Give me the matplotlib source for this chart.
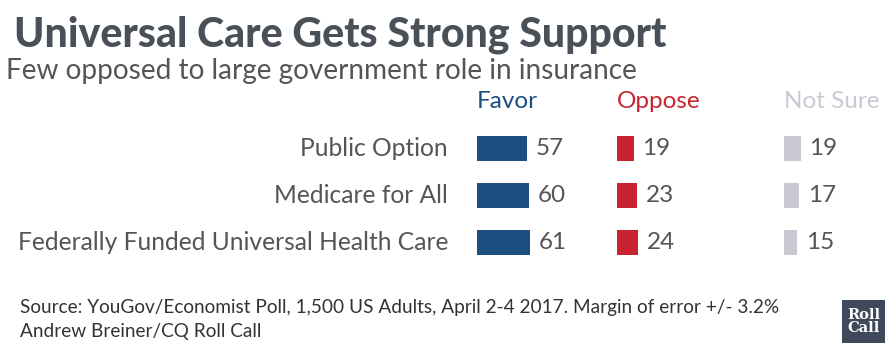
import matplotlib.pyplot as plt
from matplotlib.patches import Rectangle

# data
questions = ["Public Option", "Medicare for All", "Federally Funded Universal Health Care"]
favor = [57, 60, 61]
oppose = [19, 23, 24]
not_sure = [19, 17, 15]
groups = ["Favor", "Oppose", "Not Sure"]

plt.rcParams['font.family'] = ['Lato', 'DejaVu Sans']

W, H = 896, 352
fig = plt.figure(figsize=(W / 100, H / 100), dpi=100)
fig.patch.set_facecolor('white')

def fx(px):
    return px / W

def fy(px):
    return 1 - px / H

text_col = '#555558'
colors = ['#1c4f80', '#c9232f', '#c9c9d3']
starts = [477, 617, 784]
scale = 0.87  # px per percent point

fig.text(fx(14), fy(35), "Universal Care Gets Strong Support", fontsize=29.5, fontweight='black',
         color='#4a5058', va='center', ha='left')
fig.text(fx(6), fy(71), "Few opposed to large government role in insurance", fontsize=20.2,
         color=text_col, va='center', ha='left')

# rows occupy 124.5 .. 266.5 px from top
top, bottom = 124.5, 266.5
series = [favor, oppose, not_sure]
for g, vals, col, x0 in zip(groups, series, colors, starts):
    ax = fig.add_axes([fx(x0), fy(bottom), fx(140), (bottom - top) / H])
    ax.set_xlim(0, 140 / scale)
    ax.set_ylim(len(questions) - 0.5, -0.5)
    ax.barh(range(len(vals)), vals, height=0.53, color=col)
    for i, v in enumerate(vals):
        ax.text(v + 9 / scale, i, str(v), fontsize=17.5, color=text_col, va='center', ha='left')
    ax.axis('off')
    fig.text(fx(x0), fy(102), g, fontsize=17.5, color=col, va='center', ha='left')

# question labels
lab_ax = fig.add_axes([0, fy(bottom), fx(448), (bottom - top) / H])
lab_ax.set_xlim(0, 1)
lab_ax.set_ylim(len(questions) - 0.5, -0.5)
for i, q in enumerate(questions):
    lab_ax.text(1, i, q, fontsize=17.7, color=text_col, va='center', ha='right')
lab_ax.axis('off')

fig.text(fx(20), fy(308), "Source: YouGov/Economist Poll, 1,500 US Adults, April 2-4 2017. Margin of error +/- 3.2%",
         fontsize=13.7, color='#333333', va='center', ha='left')
fig.text(fx(20), fy(331), "Andrew Breiner/CQ Roll Call", fontsize=13.7, color='#333333', va='center', ha='left')

# logo
fig.patches.append(Rectangle((fx(842), fy(343)), fx(43), 43 / H, transform=fig.transFigure,
                             facecolor='#3e4a5c', edgecolor='none'))
fig.text(fx(863.5), fy(321.5), "Roll\nCall", fontsize=10.5, fontweight='bold', color='white',
         va='center', ha='center', linespacing=0.95, family='DejaVu Serif')

fig.savefig('out.png', dpi=100)
